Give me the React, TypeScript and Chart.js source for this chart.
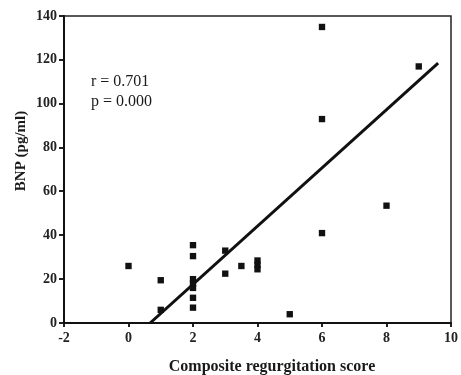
import React, { useEffect, useRef } from "react";
import { Chart, registerables } from "chart.js";

Chart.register(...registerables);

const scoreX = [0, 1, 1, 2, 2, 2, 2, 2, 2, 2, 3, 3, 3.5, 4, 4, 4, 5, 6, 6, 6, 8, 9];
const bnpY = [26, 19.5, 6, 35.5, 30.5, 20, 18, 16, 11.5, 7, 33, 22.5, 26, 28.5, 26.5, 24.5, 4, 41, 93, 135, 53.5, 117];
const fitX = [0.67, 9.6];
const fitY = [0, 118.5];
const xTicks = [-2, 0, 2, 4, 6, 8, 10];
const yTicks = [0, 20, 40, 60, 80, 100, 120, 140];
const statLines = ["r = 0.701", "p = 0.000"];
const xTitle = "Composite regurgitation score";
const yTitle = "BNP (pg/ml)";

const FONT = "'Liberation Serif', 'DejaVu Serif', serif";

export default function App() {
  const ref = useRef<HTMLCanvasElement | null>(null);
  useEffect(() => {
    if (!ref.current) return;
    const textPlugin = {
      id: "extras",
      afterDatasetsDraw(chart: any) {
        const { ctx, chartArea } = chart;
        ctx.save();
        ctx.strokeStyle = "#222";
        ctx.lineWidth = 1.5;
        ctx.beginPath();
        ctx.moveTo(chartArea.left, chartArea.top);
        ctx.lineTo(chartArea.right, chartArea.top);
        ctx.lineTo(chartArea.right, chartArea.bottom);
        ctx.stroke();
        ctx.fillStyle = "#1a1a1a";
        ctx.font = `16px ${FONT}`;
        ctx.textAlign = "left";
        ctx.textBaseline = "middle";
        statLines.forEach((s, i) => {
          ctx.fillText(s, chartArea.left + 27, chartArea.top + 66 + i * 20);
        });
        // axis titles
        ctx.font = `bold 16px ${FONT}`;
        ctx.textAlign = "center";
        ctx.textBaseline = "middle";
        ctx.fillText(xTitle, chartArea.left + 208, chartArea.bottom + 44);
        ctx.save();
        ctx.translate(21, chartArea.top + 135);
        ctx.rotate(-Math.PI / 2);
        ctx.font = `bold 15px ${FONT}`;
        ctx.fillText(yTitle, 0, 0);
        ctx.restore();
        ctx.restore();
      },
    };
    const chart = new Chart(ref.current, {
      type: "scatter",
      data: {
        datasets: [
          {
            type: "line",
            data: fitX.map((x, i) => ({ x, y: fitY[i] })),
            borderColor: "#111",
            borderWidth: 3,
            pointRadius: 0,
            fill: false,
          } as any,
          {
            data: scoreX.map((x, i) => ({ x, y: bnpY[i] })),
            pointStyle: "rect",
            pointRadius: 4.5,
            backgroundColor: "#111",
            borderColor: "#111",
            borderWidth: 0,
          },
        ],
      },
      options: {
        animation: false,
        responsive: true,
        maintainAspectRatio: false,
        layout: { padding: { top: 16, right: 4, left: 0, bottom: 0 } },
        plugins: { legend: { display: false }, tooltip: { enabled: false } },
        scales: {
          x: {
            type: "linear",
            min: -2,
            max: 10,
            afterBuildTicks: (s: any) => {
              s.ticks = xTicks.map((v) => ({ value: v }));
            },
            afterFit: (s: any) => {
              s.height = 52;
            },
            grid: { display: true, drawOnChartArea: false, drawTicks: true, tickLength: 4, color: "#222", lineWidth: 2 },
            border: { display: true, color: "#111", width: 2 },
            ticks: { color: "#222", font: { family: FONT, size: 14, weight: "bold" }, padding: 3, maxRotation: 0 },
            title: { display: false },
          },
          y: {
            type: "linear",
            min: 0,
            max: 140,
            afterBuildTicks: (s: any) => {
              s.ticks = yTicks.map((v) => ({ value: v }));
            },
            afterFit: (s: any) => {
              s.width = 64;
            },
            grid: { display: true, drawOnChartArea: false, drawTicks: true, tickLength: 5, color: "#222", lineWidth: 2 },
            border: { display: true, color: "#111", width: 2 },
            ticks: { color: "#222", font: { family: FONT, size: 14, weight: "bold" }, padding: 2 },
            title: { display: false },
          },
        },
      },
      plugins: [textPlugin],
    });
    return () => chart.destroy();
  }, []);
  return (
    <div style={{ position: "fixed", left: 0, top: 0, width: 461, height: 375, background: "#fff" }}>
      <canvas ref={ref} />
    </div>
  );
}
